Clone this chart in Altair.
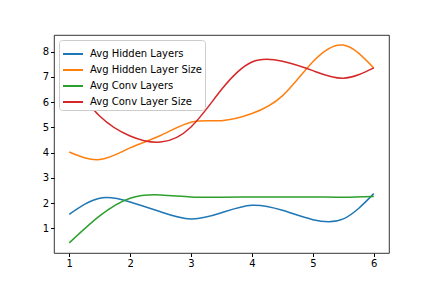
import altair as alt
import pandas as pd

x_values = [1, 1.5, 2, 2.5, 3, 3.5, 4, 4.5, 5, 5.5, 6]
series_names = ["Avg Hidden Layers", "Avg Hidden Layer Size", "Avg Conv Layers", "Avg Conv Layer Size"]
hidden_layers = [1.56, 2.20, 2.05, 1.66, 1.38, 1.62, 1.92, 1.72, 1.35, 1.38, 2.38]
hidden_layer_size = [4.03, 3.73, 4.19, 4.68, 5.21, 5.27, 5.55, 6.25, 7.60, 8.26, 7.35]
conv_layers = [0.43, 1.50, 2.20, 2.33, 2.25, 2.24, 2.25, 2.25, 2.25, 2.24, 2.27]
conv_layer_size = [6.95, 5.45, 4.66, 4.42, 5.02, 6.50, 7.59, 7.62, 7.25, 6.95, 7.36]
colors = ["#1f77b4", "#ff7f0e", "#2ca02c", "#d62728"]

rows = []
for i, (name, vals) in enumerate(zip(series_names, [hidden_layers, hidden_layer_size, conv_layers, conv_layer_size])):
    for xv, yv in zip(x_values, vals):
        rows.append({"x": xv, "y": yv, "series": name, "order": i})
df = pd.DataFrame(rows)

font = "DejaVu Sans"

chart = alt.Chart(df).mark_line(interpolate="natural", strokeWidth=1.5).encode(
    x=alt.X("x:Q", scale=alt.Scale(domain=[0.75, 6.25], nice=False, zero=False),
            axis=alt.Axis(values=[1, 2, 3, 4, 5, 6], format="d", title=None, grid=False,
                          domain=False, tickSize=3.5, tickColor="black", labelColor="black",
                          labelFont=font, labelFontSize=10, labelPadding=2)),
    y=alt.Y("y:Q", scale=alt.Scale(domain=[0.03, 8.66], nice=False, zero=False),
            axis=alt.Axis(values=[1, 2, 3, 4, 5, 6, 7, 8], format="d", title=None, grid=False,
                          domain=False, tickSize=3.5, tickColor="black", labelColor="black",
                          labelFont=font, labelFontSize=10, labelPadding=2)),
    color=alt.Color("series:N", sort=series_names,
                    scale=alt.Scale(domain=series_names, range=colors),
                    legend=alt.Legend(title=None, orient="none", legendX=5, legendY=5,
                                      symbolType="stroke", symbolSize=400, symbolStrokeWidth=2,
                                      labelFont=font, labelFontSize=10, labelColor="black",
                                      rowPadding=-7, padding=3, fillColor="white",
                                      strokeColor="#cccccc", cornerRadius=3, labelLimit=300,
                                      labelOffset=6)),
    order=alt.Order("order:Q"),
    detail="series:N",
).properties(
    width=335, height=218,
    padding={"left": 46, "top": 27, "right": 35, "bottom": 27},
    autosize="none",
).configure_view(stroke="black", strokeWidth=0.8)

chart.save("out.html", embed_options={"renderer": "svg", "actions": False})
